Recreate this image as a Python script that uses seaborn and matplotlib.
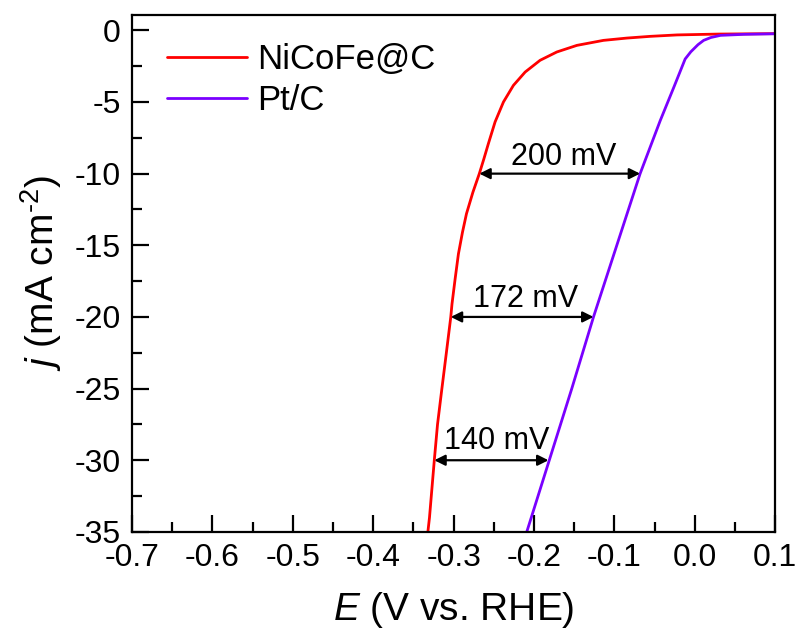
import numpy as np
import pandas as pd
import matplotlib.pyplot as plt
import seaborn as sns
from matplotlib.ticker import MultipleLocator

# LSV data (E in V vs. RHE, j in mA cm-2)
nicofe_E = [-0.332, -0.330, -0.327, -0.324, -0.320, -0.315, -0.309, -0.3035, -0.302, -0.298,
            -0.294, -0.289, -0.284, -0.276, -0.268, -0.2625, -0.2567, -0.2484, -0.238, -0.2256,
            -0.211, -0.1924, -0.1716, -0.1467, -0.1136, -0.0845, -0.0555, -0.022, 0.030, 0.100]
nicofe_j = [-35.0, -34.0, -32.0, -30.0, -27.5, -25.2, -22.5, -20.0, -19.1, -17.3,
            -15.6, -14.1, -12.8, -11.3, -10.0, -9.0, -7.9, -6.39, -5.0, -3.84,
            -2.91, -2.09, -1.51, -1.05, -0.70, -0.54, -0.42, -0.32, -0.26, -0.23]

ptc_E = [-0.209, -0.181, -0.153, -0.126, -0.097, -0.068, -0.043, -0.026, -0.012, -0.005,
         0.004, 0.011, 0.020, 0.032, 0.061, 0.100]
ptc_j = [-35.0, -30.0, -25.0, -20.0, -15.0, -10.0, -6.3, -3.96, -2.0, -1.5,
         -1.0, -0.70, -0.50, -0.35, -0.28, -0.24]

samples = ['NiCoFe@C', 'Pt/C']
colors = ['#ff0000', '#7a00ff']

# overpotential gaps: j level, left E, right E, label
gap_j = [-10, -20, -30]
gap_left = [-0.268, -0.3035, -0.324]
gap_right = [-0.068, -0.126, -0.182]
gap_labels = ['200 mV', '172 mV', '140 mV']
label_E = [-0.1625, -0.211, -0.246]
label_j = [-9.4, -19.3, -29.25]

df = pd.concat([
    pd.DataFrame({'E': nicofe_E, 'j': nicofe_j, 'sample': samples[0]}),
    pd.DataFrame({'E': ptc_E, 'j': ptc_j, 'sample': samples[1]}),
])

sns.set_style('ticks')
plt.rcParams['font.family'] = ['Liberation Sans', 'DejaVu Sans']
plt.rcParams['mathtext.fontset'] = 'custom'
plt.rcParams['mathtext.rm'] = 'Liberation Sans'
plt.rcParams['mathtext.it'] = 'Liberation Sans:italic'
plt.rcParams['axes.unicode_minus'] = False
plt.rcParams['text.color'] = 'black'
plt.rcParams['axes.labelcolor'] = 'black'
plt.rcParams['xtick.color'] = 'black'
plt.rcParams['ytick.color'] = 'black'

fig = plt.figure(figsize=(8, 6.37), dpi=100)
ax = fig.add_axes([0.165, 0.165, 0.804, 0.811])

sns.lineplot(data=df, x='E', y='j', hue='sample', hue_order=samples,
             palette=colors, sort=False, estimator=None, linewidth=2.0, ax=ax)

for yj, xl, xr in zip(gap_j, gap_left, gap_right):
    ax.annotate('', xy=(xl, yj), xytext=(xr, yj),
                arrowprops=dict(arrowstyle='<|-|>', color='black', lw=1.6,
                                mutation_scale=16, shrinkA=0, shrinkB=0))
for tx, ty, s in zip(label_E, label_j, gap_labels):
    ax.text(tx, ty, s, ha='center', va='baseline', fontsize=22)

ax.set_xlim(-0.7, 0.1)
ax.set_ylim(-35, 1.05)
ax.xaxis.set_major_locator(MultipleLocator(0.1))
ax.xaxis.set_minor_locator(MultipleLocator(0.05))
ax.yaxis.set_major_locator(MultipleLocator(5))
ax.yaxis.set_minor_locator(MultipleLocator(2.5))
ax.set_xticklabels([f'{v:.1f}' for v in ax.get_xticks()])
ax.tick_params(which='both', direction='in', width=1.6, labelsize=23)
ax.tick_params(which='major', length=12)
ax.tick_params(which='minor', length=7)
ax.tick_params(axis='x', pad=8)
ax.tick_params(axis='y', pad=8)
for sp in ax.spines.values():
    sp.set_linewidth(1.6)
    sp.set_color('black')

ax.set_xlabel(r'$\mathit{E}$ (V vs. RHE)', fontsize=28, labelpad=12)
ax.set_ylabel(r'$\mathit{j}$ (mA cm$^{\text{-}2}$)', fontsize=28, labelpad=8)

ax.legend(frameon=False, fontsize=25, loc='upper left', bbox_to_anchor=(0.033, 0.973),
          handlelength=2.3, handletextpad=0.3, labelspacing=0.22, borderaxespad=0)

fig.savefig('out.png', dpi=100)
